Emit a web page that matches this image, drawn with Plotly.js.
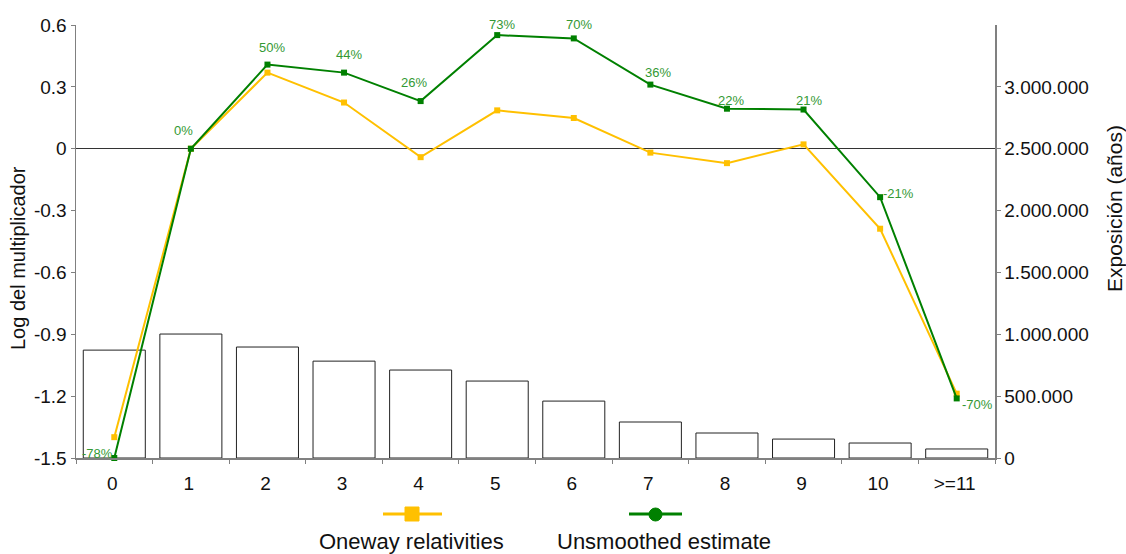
<!DOCTYPE html>
<html>
<head>
<meta charset="utf-8">
<script src="https://cdn.plot.ly/plotly-3.0.1.min.js"></script>
<style>html,body{margin:0;padding:0;background:#fff;}#chart{width:1126px;height:554px;}</style>
</head>
<body>
<div id="chart"></div>
<script>
// ---- data ----
var categories = ["0","1","2","3","4","5","6","7","8","9","10",">=11"];
var exposure = [872000, 1002000, 897000, 783000, 711000, 622000, 460000, 291000, 202000, 153000, 121000, 73000];
var onewayRelativities = [-1.399, 0.0, 0.369, 0.224, -0.041, 0.186, 0.149, -0.019, -0.070, 0.021, -0.388, -1.188];
var unsmoothedEstimate = [-1.50, 0.0, 0.408, 0.369, 0.231, 0.551, 0.535, 0.311, 0.194, 0.190, -0.235, -1.211];
var unsmoothedLabels = ["-78%","0%","50%","44%","26%","73%","70%","36%","22%","21%","-21%","-70%"];
var leftTickVals = [-1.5, -1.2, -0.9, -0.6, -0.3, 0, 0.3, 0.6];
var leftTickText = ["-1.5","-1.2","-0.9","-0.6","-0.3","0","0.3","0.6"];
var rightTickVals = [0, 500000, 1000000, 1500000, 2000000, 2500000, 3000000];
var rightTickText = ["0","500.000","1.000.000","1.500.000","2.000.000","2.500.000","3.000.000"];
var seriesNames = ["Oneway relativities", "Unsmoothed estimate"];
var leftAxisTitle = "Log del multiplicador";
var rightAxisTitle = "Exposición (años)";

// ---- styles ----
var FONT = "Liberation Sans, Arial, sans-serif";
var YELLOW = "#FFC000";
var GREEN = "#008000";
var LABEL_GREEN = "#339933";
var TEXT = "#111111";
// label placement for each green point: [xanchor, xshift, yshift] (label centred vertically)
var labelPlacement = [
  ["right", 1, 5], ["center", -7, 18], ["center", 5, 17], ["center", 5, 18],
  ["center", -7, 19], ["center", 5, 11], ["center", 5, 14], ["center", 8, 12],
  ["center", 4, 8], ["center", 5, 9], ["left", 1, 4], ["left", 3, -6]
];

var traces = [
  {
    type: "bar", x: categories, y: exposure, yaxis: "y", width: 0.81,
    marker: {color: "#ffffff", line: {color: "#222222", width: 1}},
    showlegend: false, hoverinfo: "skip"
  },
  {
    type: "scatter", mode: "lines+markers", x: categories, y: onewayRelativities, yaxis: "y2",
    name: seriesNames[0],
    line: {color: YELLOW, width: 2}, marker: {color: YELLOW, size: 6, symbol: "square"},
    showlegend: false, hoverinfo: "skip", cliponaxis: false
  },
  {
    type: "scatter", mode: "lines+markers", x: categories, y: unsmoothedEstimate, yaxis: "y2",
    name: seriesNames[1],
    line: {color: GREEN, width: 2}, marker: {color: GREEN, size: 6, symbol: "square"},
    showlegend: false, hoverinfo: "skip", cliponaxis: false
  }
];

// geometry of the plot area (pixels) for the hand-drawn legend
var plotL = 76, plotR = 995, plotT = 25, plotB = 458;
function px(x){ return (x - plotL) / (plotR - plotL); }
function py(y){ return (plotB - y) / (plotB - plotT); }

var shapes = [
  {type:"line", xref:"paper", yref:"paper", x0:px(383), x1:px(442), y0:py(514), y1:py(514), line:{color:YELLOW, width:3}},
  {type:"rect", xref:"paper", yref:"paper", x0:px(405), x1:px(419), y0:py(507), y1:py(521), fillcolor:YELLOW, line:{color:YELLOW, width:1}},
  {type:"line", xref:"paper", yref:"paper", x0:px(629), x1:px(682), y0:py(514), y1:py(514), line:{color:GREEN, width:3}},
  {type:"circle", xref:"paper", yref:"paper", x0:px(649), x1:px(662), y0:py(508), y1:py(521), fillcolor:GREEN, line:{color:GREEN, width:1}}
];

var annotations = [
  {xref:"paper", yref:"paper", x:px(411), y:py(541), text:seriesNames[0], showarrow:false, xanchor:"center", yanchor:"middle", font:{family:FONT, size:22, color:TEXT}},
  {xref:"paper", yref:"paper", x:px(664), y:py(541), text:seriesNames[1], showarrow:false, xanchor:"center", yanchor:"middle", font:{family:FONT, size:22, color:TEXT}},
  {xref:"paper", yref:"paper", x:px(18), y:py(258), text:leftAxisTitle, textangle:-90, showarrow:false, xanchor:"center", yanchor:"middle", font:{family:FONT, size:20, color:TEXT}},
  {xref:"paper", yref:"paper", x:px(1114), y:py(209), text:rightAxisTitle, textangle:-90, showarrow:false, xanchor:"center", yanchor:"middle", font:{family:FONT, size:21, color:TEXT}}
];
for (var i = 0; i < categories.length; i++) {
  annotations.push({
    xref: "x", yref: "y2", x: categories[i], y: unsmoothedEstimate[i],
    text: unsmoothedLabels[i], showarrow: false,
    xanchor: labelPlacement[i][0], yanchor: "middle",
    xshift: labelPlacement[i][1], yshift: labelPlacement[i][2],
    font: {family: FONT, size: 13, color: LABEL_GREEN}
  });
}

var layout = {
  width: 1126, height: 554,
  margin: {l: 76, r: 131, t: 25, b: 96, pad: 0},
  paper_bgcolor: "#ffffff", plot_bgcolor: "#ffffff",
  font: {family: FONT, size: 19, color: TEXT},
  showlegend: false,
  xaxis: {
    type: "category", range: [-0.5, 11.5], showgrid: false, zeroline: false,
    showline: true, linecolor: "#808080", linewidth: 1.5,
    ticks: "outside", tickson: "boundaries", ticklen: 4, tickcolor: "#808080",
    ticklabelstandoff: 8, ticklabelshift: -2,
    tickfont: {family: FONT, size: 19, color: TEXT}
  },
  yaxis: {
    side: "right", range: [0, 3500000], showgrid: false, zeroline: false,
    showline: true, linecolor: "#808080", linewidth: 1.5,
    ticks: "outside", ticklen: 4, tickcolor: "#808080",
    tickvals: rightTickVals, ticktext: rightTickText,
    tickfont: {family: FONT, size: 19, color: TEXT}
  },
  yaxis2: {
    side: "left", overlaying: "y", range: [-1.5, 0.6], showgrid: false,
    zeroline: true, zerolinecolor: "#333333", zerolinewidth: 1,
    showline: true, linecolor: "#808080", linewidth: 1.5,
    ticks: "outside", ticklen: 4, tickcolor: "#808080",
    tickvals: leftTickVals, ticktext: leftTickText,
    tickfont: {family: FONT, size: 19, color: TEXT}
  },
  shapes: shapes,
  annotations: annotations
};

Plotly.newPlot("chart", traces, layout, {displayModeBar: false, staticPlot: true});
</script>
</body>
</html>
